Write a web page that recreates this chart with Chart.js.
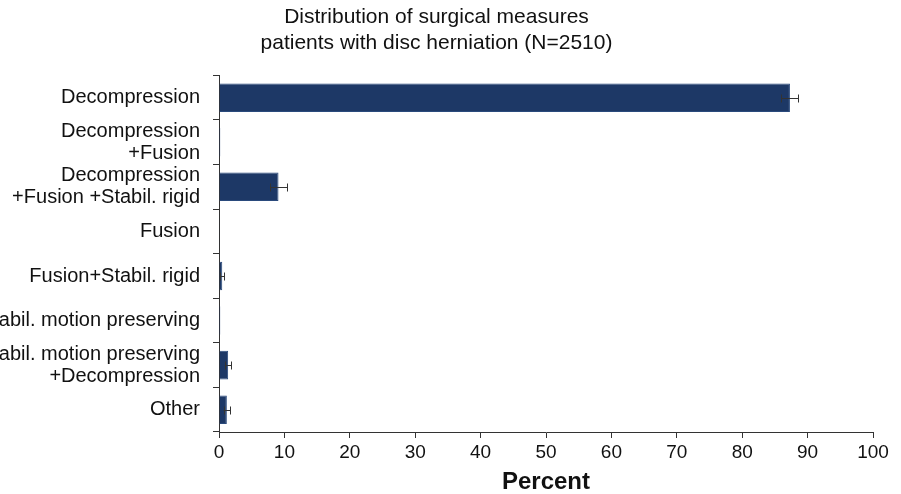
<!DOCTYPE html>
<html>
<head>
<meta charset="utf-8">
<script src="https://cdn.jsdelivr.net/npm/chart.js@4/dist/chart.umd.min.js"></script>
<style>
  html, body { margin: 0; padding: 0; background: #fff; }
  #wrap { width: 901px; height: 494px; }
</style>
</head>
<body>
<div id="wrap"><canvas id="grafica"></canvas></div>
<script>
const categorias = [
    'Decompression',
    ['Decompression', '+Fusion'],
    ['Decompression', '+Fusion +Stabil. rigid'],
    'Fusion',
    'Fusion+Stabil. rigid',
    'Stabil. motion preserving',
    ['Stabil. motion preserving', '+Decompression'],
    'Other'
];
const porcentajes = [87.3, 0.2, 9.1, 0.1, 0.5, 0.2, 1.4, 1.2];
const errores = [1.3, 0, 1.3, 0, 0.3, 0, 0.5, 0.5];
const ticksX = [0, 10, 20, 30, 40, 50, 60, 70, 80, 90, 100];

const fuente = "'Liberation Sans', Arial, sans-serif";

// barras de error dibujadas con las escalas del grafico
const barrasError = {
    id: 'barrasError',
    afterDatasetsDraw(chart) {
        const ctx = chart.ctx;
        const x = chart.scales.x;
        const meta = chart.getDatasetMeta(0);
        ctx.save();
        ctx.strokeStyle = '#333';
        ctx.lineWidth = 1;
        meta.data.forEach((bar, i) => {
            const e = errores[i];
            if (!e) return;
            const x1 = x.getPixelForValue(porcentajes[i] - e);
            const x2 = x.getPixelForValue(porcentajes[i] + e);
            const y = Math.round(bar.y) + 0.5;
            ctx.beginPath();
            ctx.moveTo(x1, y); ctx.lineTo(x2, y);
            ctx.moveTo(Math.round(x1) + 0.5, y - 4); ctx.lineTo(Math.round(x1) + 0.5, y + 4);
            ctx.moveTo(Math.round(x2) + 0.5, y - 4); ctx.lineTo(Math.round(x2) + 0.5, y + 4);
            ctx.stroke();
        });
        ctx.restore();
    }
};

const ctx = document.getElementById('grafica').getContext('2d');
const chart = new Chart(ctx, {
    type: 'bar',
    data: {
        labels: categorias,
        datasets: [{
            data: porcentajes,
            backgroundColor: '#1d3866',
            borderColor: '#2a4a7c',
            borderWidth: 1,
            barPercentage: 0.64,
            categoryPercentage: 1
        }]
    },
    options: {
        indexAxis: 'y',
        responsive: true,
        maintainAspectRatio: false,
        animation: false,
        layout: { padding: { left: 0, right: 28, top: 5, bottom: 0 } },
        plugins: {
            legend: { display: false },
            tooltip: { enabled: false },
            title: {
                display: true,
                text: ['Distribution of surgical measures', 'patients with disc herniation (N=2510)'],
                color: '#111',
                font: { family: fuente, size: 21, weight: 'normal', lineHeight: 1.2 },
                padding: { top: 0, bottom: 20 }
            }
        },
        scales: {
            x: {
                type: 'linear',
                min: 0,
                max: 100,
                afterBuildTicks(scale) {
                    scale.ticks = ticksX.map(v => ({ value: v }));
                },
                afterFit(scale) { scale.height = 62; },
                ticks: {
                    color: '#111',
                    font: { family: fuente, size: 19 },
                    padding: 3,
                    maxRotation: 0
                },
                grid: {
                    drawOnChartArea: false,
                    drawTicks: true,
                    tickLength: 6,
                    color: '#333'
                },
                border: { color: '#333', width: 1 },
                title: {
                    display: true,
                    text: 'Percent',
                    color: '#111',
                    font: { family: fuente, size: 24, weight: 'bold', lineHeight: 1 },
                    padding: { top: 0, bottom: 0 }
                }
            },
            y: {
                afterFit(scale) { scale.width = 219; },
                ticks: {
                    color: '#111',
                    font: { family: fuente, size: 20, lineHeight: 1.1 },
                    padding: 13,
                    crossAlign: 'near',
                    autoSkip: false
                },
                grid: {
                    drawOnChartArea: false,
                    drawTicks: true,
                    tickLength: 6,
                    color: '#333',
                    offset: true
                },
                border: { color: '#333', width: 1 }
            }
        }
    },
    plugins: [barrasError]
});
</script>
</body>
</html>
